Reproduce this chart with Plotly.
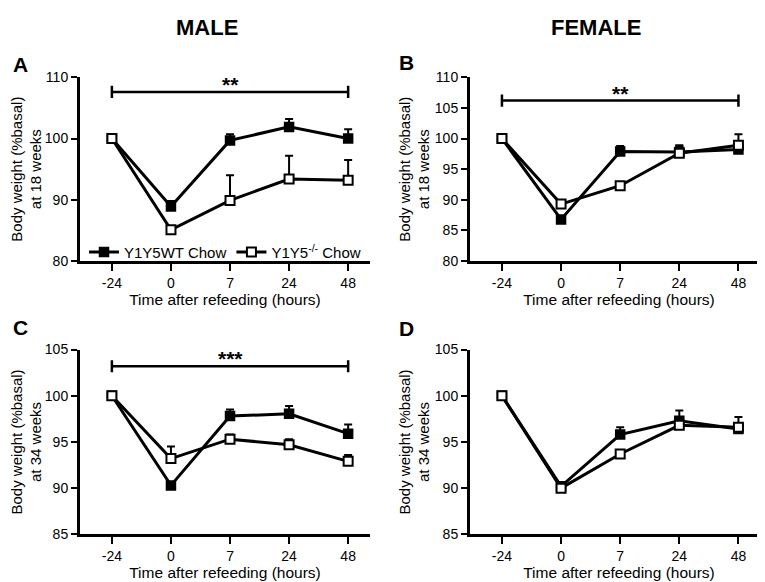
import plotly.graph_objects as go

hours = ["-24", "0", "7", "24", "48"]

# panel A: male, 18 weeks
a_wt = [100, 88.9, 99.7, 101.9, 100.0]
a_wt_sem = [0, 0.9, 1.0, 1.3, 1.5]
a_ko = [100, 85.1, 89.9, 93.4, 93.2]
a_ko_sem = [0, 0.5, 4.1, 3.8, 3.3]

# panel B: female, 18 weeks
b_wt = [100, 86.8, 97.9, 97.8, 98.2]
b_wt_sem = [0, 0.4, 0.9, 1.0, 0.5]
b_ko = [100, 89.3, 92.3, 97.6, 98.9]
b_ko_sem = [0, 0.3, 0.4, 1.3, 1.8]

# panel C: male, 34 weeks
c_wt = [100, 90.3, 97.8, 98.05, 95.9]
c_wt_sem = [0, 0.2, 0.7, 0.85, 1.0]
c_ko = [100, 93.2, 95.3, 94.7, 92.9]
c_ko_sem = [0, 1.3, 0.5, 0.6, 0.7]

# panel D: female, 34 weeks
d_wt = [100, 90.2, 95.8, 97.3, 96.4]
d_wt_sem = [0, 0.3, 0.8, 1.1, 0.5]
d_ko = [100, 90.0, 93.7, 96.8, 96.6]
d_ko_sem = [0, 0.3, 0.3, 0.5, 1.1]

FONT = "Liberation Sans, Arial, sans-serif"
W, H = 765, 582

# pixel boxes of the four plot areas (left, right, top, bottom)
boxes = {
    "A": (72, 362, 63, 252),
    "B": (462, 760, 63, 252),
    "C": (72, 362, 343, 533),
    "D": (462, 760, 343, 533),
}
letter_pos = {"A": (12, 50), "B": (398, 48), "C": (12, 320), "D": (398, 321)}
xranges = {"A": [-0.54, 4.37], "B": [-0.54, 4.5], "C": [-0.54, 4.37], "D": [-0.54, 4.5]}
yranges = {"A": [80, 110], "B": [80, 110], "C": [85, 105], "D": [85, 105]}
ydticks = {"A": 10, "B": 5, "C": 5, "D": 5}
weeks = {"A": 18, "B": 18, "C": 34, "D": 34}
series = {
    "A": (a_wt, a_wt_sem, a_ko, a_ko_sem),
    "B": (b_wt, b_wt_sem, b_ko, b_ko_sem),
    "C": (c_wt, c_wt_sem, c_ko, c_ko_sem),
    "D": (d_wt, d_wt_sem, d_ko, d_ko_sem),
}
# significance bracket: level, cap half-height, label
brackets = {"A": (107.6, 1.0, "**"), "B": (106.2, 1.0, "**"), "C": (103.2, 0.65, "***")}

fig = go.Figure()
layout = {}
annotations = []

for i, key in enumerate(["A", "B", "C", "D"]):
    n = "" if i == 0 else str(i + 1)
    xa, ya = "x" + n, "y" + n
    l, r, t, b = boxes[key]
    wt, wt_sem, ko, ko_sem = series[key]
    show = key == "A"

    fig.add_trace(go.Scatter(
        x=hours, y=wt, xaxis=xa, yaxis=ya, mode="lines+markers",
        name="Y1Y5WT Chow", showlegend=show, legendrank=1,
        line=dict(color="black", width=3),
        marker=dict(symbol="square", size=9, color="black", line=dict(color="black", width=1.5)),
        error_y=dict(type="data", symmetric=False, array=wt_sem, arrayminus=[0] * 5,
                     color="black", thickness=2, width=4),
    ))
    fig.add_trace(go.Scatter(
        x=hours, y=ko, xaxis=xa, yaxis=ya, mode="lines+markers",
        name="Y1Y5<sup>-/-</sup> Chow", showlegend=show, legendrank=2,
        line=dict(color="black", width=3),
        marker=dict(symbol="square", size=9, color="white", line=dict(color="black", width=2)),
        error_y=dict(type="data", symmetric=False, array=ko_sem, arrayminus=[0] * 5,
                     color="black", thickness=2, width=4),
    ))

    if key in brackets:
        lev, cap, lab = brackets[key]
        fig.add_trace(go.Scatter(
            x=[hours[0], hours[0], None, hours[0], hours[-1], None, hours[-1], hours[-1]],
            y=[lev - cap, lev + cap, None, lev, lev, None, lev - cap, lev + cap],
            xaxis=xa, yaxis=ya, mode="lines", showlegend=False, hoverinfo="skip",
            line=dict(color="black", width=2.5),
        ))
        # category index 2 is the middle of the bracket
        annotations.append(dict(
            x=2, y=lev, xref=xa, yref=ya, text=f"<b>{lab}</b>", showarrow=False,
            xanchor="center", yanchor="bottom", yshift=-6,
            font=dict(family=FONT, size=21, color="black"),
        ))

    axis_common = dict(
        showline=True, linewidth=3, linecolor="black", mirror=False,
        showgrid=False, zeroline=False, ticks="outside", tickwidth=2,
        tickcolor="black", tickfont=dict(family=FONT, size=14, color="black"),
    )
    layout["xaxis" + n] = dict(
        axis_common, domain=[l / W, r / W], anchor=ya, type="category",
        range=xranges[key], ticklen=7,
        title=dict(text="Time after refeeding (hours)", standoff=3,
                   font=dict(family=FONT, size=15.5, color="black")),
    )
    layout["yaxis" + n] = dict(
        axis_common, domain=[1 - b / H, 1 - t / H], anchor=xa,
        range=yranges[key], dtick=ydticks[key], ticklen=6,
        title=dict(text=f"Body weight (%basal)<br>at {weeks[key]} weeks", standoff=2,
                   font=dict(family=FONT, size=15, color="black")),
    )
    lx, ly = letter_pos[key]
    annotations.append(dict(
        x=lx / W, y=1 - ly / H, xref="paper", yref="paper", text=f"<b>{key}</b>",
        showarrow=False, xanchor="center", yanchor="middle",
        font=dict(family=FONT, size=21, color="black"),
    ))

annotations.append(dict(x=199 / W, y=1 - 12 / H, xref="paper", yref="paper", text="<b>MALE</b>",
                        showarrow=False, xanchor="center", yanchor="middle",
                        font=dict(family=FONT, size=22, color="black")))
annotations.append(dict(x=588 / W, y=1 - 12 / H, xref="paper", yref="paper", text="<b>FEMALE</b>",
                        showarrow=False, xanchor="center", yanchor="middle",
                        font=dict(family=FONT, size=22, color="black")))

fig.update_layout(
    width=W, height=H,
    margin=dict(l=0, r=0, t=0, b=0),
    paper_bgcolor="white", plot_bgcolor="white",
    font=dict(family=FONT, color="black"),
    annotations=annotations,
    legend=dict(
        orientation="h", x=76 / W, y=1 - 243 / H, xanchor="left", yanchor="middle",
        xref="paper", yref="paper", bgcolor="rgba(0,0,0,0)",
        font=dict(family=FONT, size=15, color="black"), itemwidth=30,
    ),
    **layout,
)

fig.write_html("out.html")
